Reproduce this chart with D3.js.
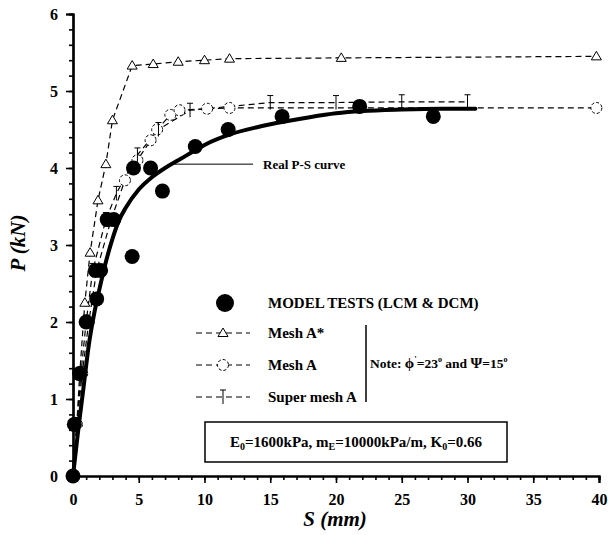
<!DOCTYPE html>
<html><head><meta charset="utf-8">
<script src="https://cdn.jsdelivr.net/npm/d3@7"></script>
<style>
html,body{margin:0;padding:0;background:#fff;}
svg text{font-family:"Liberation Serif","Times New Roman",serif;font-weight:bold;fill:#000;}
</style></head>
<body><svg id="c" width="608" height="535"></svg>
<script>
// ---- data ----
const xTicks = [0,5,10,15,20,25,30,35,40];
const yTicks = [0,1,2,3,4,5,6];
const modelTests = [[0,0],[0.1,0.67],[0.5,1.33],[1.0,2.0],[1.8,2.3],[1.7,2.67],[2.1,2.67],[2.6,3.33],[3.1,3.33],[4.5,2.85],[4.6,4.0],[5.9,4.0],[6.8,3.7],[9.3,4.28],[11.8,4.5],[15.9,4.67],[21.8,4.8],[27.4,4.67]];
const realCurve = [[0,0],[0.4,0.6],[0.8,1.15],[1.2,1.7],[1.6,2.1],[2.0,2.42],[2.5,2.78],[3.0,3.08],[3.5,3.32],[4.0,3.48],[5.0,3.72],[6.0,3.88],[7.0,4.0],[8.0,4.1],[9.0,4.2],[10.0,4.3],[12.0,4.44],[14.0,4.53],[16.0,4.6],[18.0,4.66],[20.0,4.71],[22.0,4.74],[25.0,4.76],[28.0,4.77],[30.6,4.77]];
const meshAStar = [[0,0],[0.3,0.7],[0.5,1.3],[0.9,2.25],[1.3,2.9],[1.9,3.58],[2.5,4.05],[3.0,4.62],[4.5,5.33],[6.1,5.35],[8.0,5.38],[10.0,5.4],[11.9,5.42],[20.4,5.43],[39.8,5.45]];
const meshA = [[0,0],[0.3,0.67],[0.7,1.33],[1.2,2.0],[1.8,2.67],[2.9,3.33],[3.95,3.84],[4.9,4.1],[5.9,4.36],[6.4,4.5],[7.4,4.69],[8.1,4.75],[10.2,4.77],[11.9,4.78],[39.8,4.78]];
const superMeshA = [[0,0],[0.3,0.67],[0.6,1.33],[1.0,2.0],[1.5,2.67],[2.5,3.33],[3.3,3.67],[4.9,4.17],[6.5,4.5],[8.9,4.75],[15.0,4.85],[20.0,4.85],[25.0,4.86],[30.0,4.86]];
const legendLabels = ["MODEL TESTS (LCM & DCM)","Mesh A*","Mesh A","Super mesh A"];
const noteText = ["Note: ", "\u03D5", "'", "=23", "o", " and ", "\u03A8", "=15", "o"];

// ---- chart ----
const svg = d3.select("#c");
const x = d3.scaleLinear().domain([0,40]).range([73,599]);
const y = d3.scaleLinear().domain([0,6]).range([476,14]);

const xAxis = d3.axisBottom(x).tickValues(xTicks).tickSize(7).tickPadding(11).tickFormat(d3.format("d"));
const xMinor = d3.axisBottom(x).tickValues(d3.range(0,41,1)).tickSize(4).tickFormat("");
const yAxis = d3.axisLeft(y).tickValues(yTicks).tickSize(7).tickPadding(8).tickFormat(d3.format("d"));
const yMinor = d3.axisLeft(y).tickValues(d3.range(0,6.01,0.2)).tickSize(4).tickFormat("");

function styleAxis(g){
  g.attr("font-family",null).attr("font-size",null);
  g.select(".domain").attr("stroke","#000").attr("stroke-width",2.2);
  g.selectAll(".tick line").attr("stroke","#000").attr("stroke-width",1.6);
  g.selectAll("text").style("font-size","16px").style("font-family","Liberation Serif").style("font-weight","bold");
}
svg.append("g").attr("transform","translate(0,476)").call(xMinor).call(styleAxis);
svg.append("g").attr("transform","translate(0,476)").call(xAxis).call(styleAxis);
svg.append("g").attr("transform","translate(73,0)").call(yMinor).call(styleAxis);
svg.append("g").attr("transform","translate(73,0)").call(yAxis).call(styleAxis);

svg.append("text").attr("x",335).attr("y",526).attr("text-anchor","middle")
  .style("font-size","21px").style("font-style","italic").text("S (mm)");
svg.append("text").attr("transform","translate(25,243) rotate(-90)").attr("text-anchor","middle")
  .style("font-size","21px").style("font-style","italic").text("P (kN)");

const line = d3.line().x(d=>x(d[0])).y(d=>y(d[1]));
const smooth = d3.line().x(d=>x(d[0])).y(d=>y(d[1])).curve(d3.curveMonotoneX);

function dashed(data){
  svg.append("path").datum(data).attr("d",line).attr("fill","none")
    .attr("stroke","#000").attr("stroke-width",1.2).attr("stroke-dasharray","6,4");
}
dashed(meshAStar); dashed(meshA); dashed(superMeshA);

function triangle(g){ g.append("path").attr("d","M-5,3.5 L0,-5 L5,3.5 Z").attr("fill","#fff").attr("stroke","#000").attr("stroke-width",1); }
function openCircle(g){ g.append("circle").attr("r",5.5).attr("fill","#fff").attr("stroke","#000").attr("stroke-width",1).attr("stroke-dasharray","3,2"); }
function vbar(g){ g.append("path").attr("d","M0,-7 V7 M-3,-7 H3").attr("fill","none").attr("stroke","#000").attr("stroke-width",1); }

function markers(data, fn){
  data.forEach(d=>{ const g = svg.append("g").attr("transform",`translate(${x(d[0])},${y(d[1])})`); fn(g); });
}
markers(meshAStar.slice(1), triangle);
markers(meshA.slice(1), openCircle);
markers(superMeshA.slice(1), vbar);

svg.append("path").datum(realCurve).attr("d",smooth).attr("fill","none")
  .attr("stroke","#000").attr("stroke-width",4).attr("stroke-linecap","round");

svg.selectAll("circle.mt").data(modelTests).enter().append("circle").attr("class","mt")
  .attr("cx",d=>x(d[0])).attr("cy",d=>y(d[1])).attr("r",7.5).attr("fill","#000");

svg.append("line").attr("x1",x(7.6)).attr("x2",253).attr("y1",y(4.05)).attr("y2",y(4.05)).attr("stroke","#000").attr("stroke-width",1);
svg.append("text").attr("x",263).attr("y",y(4.05)+5).style("font-size","13px").text("Real P-S curve");

svg.append("circle").attr("cx",225).attr("cy",303).attr("r",9).attr("fill","#000");
const legY = [303,333,365,397];
svg.append("text").attr("x",268).attr("y",legY[0]+5).style("font-size","15px").text(legendLabels[0]);
const legFns = [triangle, openCircle, vbar];
for(let i=1;i<4;i++){
  svg.append("line").attr("x1",196).attr("x2",250).attr("y1",legY[i]).attr("y2",legY[i])
    .attr("stroke","#000").attr("stroke-width",1.2).attr("stroke-dasharray","6,4");
  const g = svg.append("g").attr("transform",`translate(223,${legY[i]})`); legFns[i-1](g);
  svg.append("text").attr("x",268).attr("y",legY[i]+5).style("font-size","15px").text(legendLabels[i]);
}
svg.append("line").attr("x1",366).attr("x2",366).attr("y1",325).attr("y2",402).attr("stroke","#000").attr("stroke-width",1.5);
const note = svg.append("text").attr("x",370).attr("y",368).style("font-size","13.5px");
note.append("tspan").text(noteText[0]);
note.append("tspan").style("font-size","15px").text(noteText[1]);
note.append("tspan").attr("dy",-6).style("font-size","9px").text(noteText[2]);
note.append("tspan").attr("dy",6).text(noteText[3]);
note.append("tspan").attr("dy",-6).style("font-size","8px").text(noteText[4]);
note.append("tspan").attr("dy",6).text(noteText[5]);
note.append("tspan").style("font-size","15px").text(noteText[6]);
note.append("tspan").text(noteText[7]);
note.append("tspan").attr("dy",-6).style("font-size","8px").text(noteText[8]);

svg.append("rect").attr("x",205).attr("y",422).attr("width",302).attr("height",40)
  .attr("fill","#fff").attr("stroke","#000").attr("stroke-width",1.5);
const bt = svg.append("text").attr("x",356).attr("y",447).attr("text-anchor","middle").style("font-size","15px");
bt.append("tspan").text("E");
bt.append("tspan").attr("dy",3).style("font-size","10px").text("0");
bt.append("tspan").attr("dy",-3).text("=1600kPa, m");
bt.append("tspan").attr("dy",3).style("font-size","10px").text("E");
bt.append("tspan").attr("dy",-3).text("=10000kPa/m, K");
bt.append("tspan").attr("dy",3).style("font-size","10px").text("0");
bt.append("tspan").attr("dy",-3).text("=0.66");
</script></body></html>
